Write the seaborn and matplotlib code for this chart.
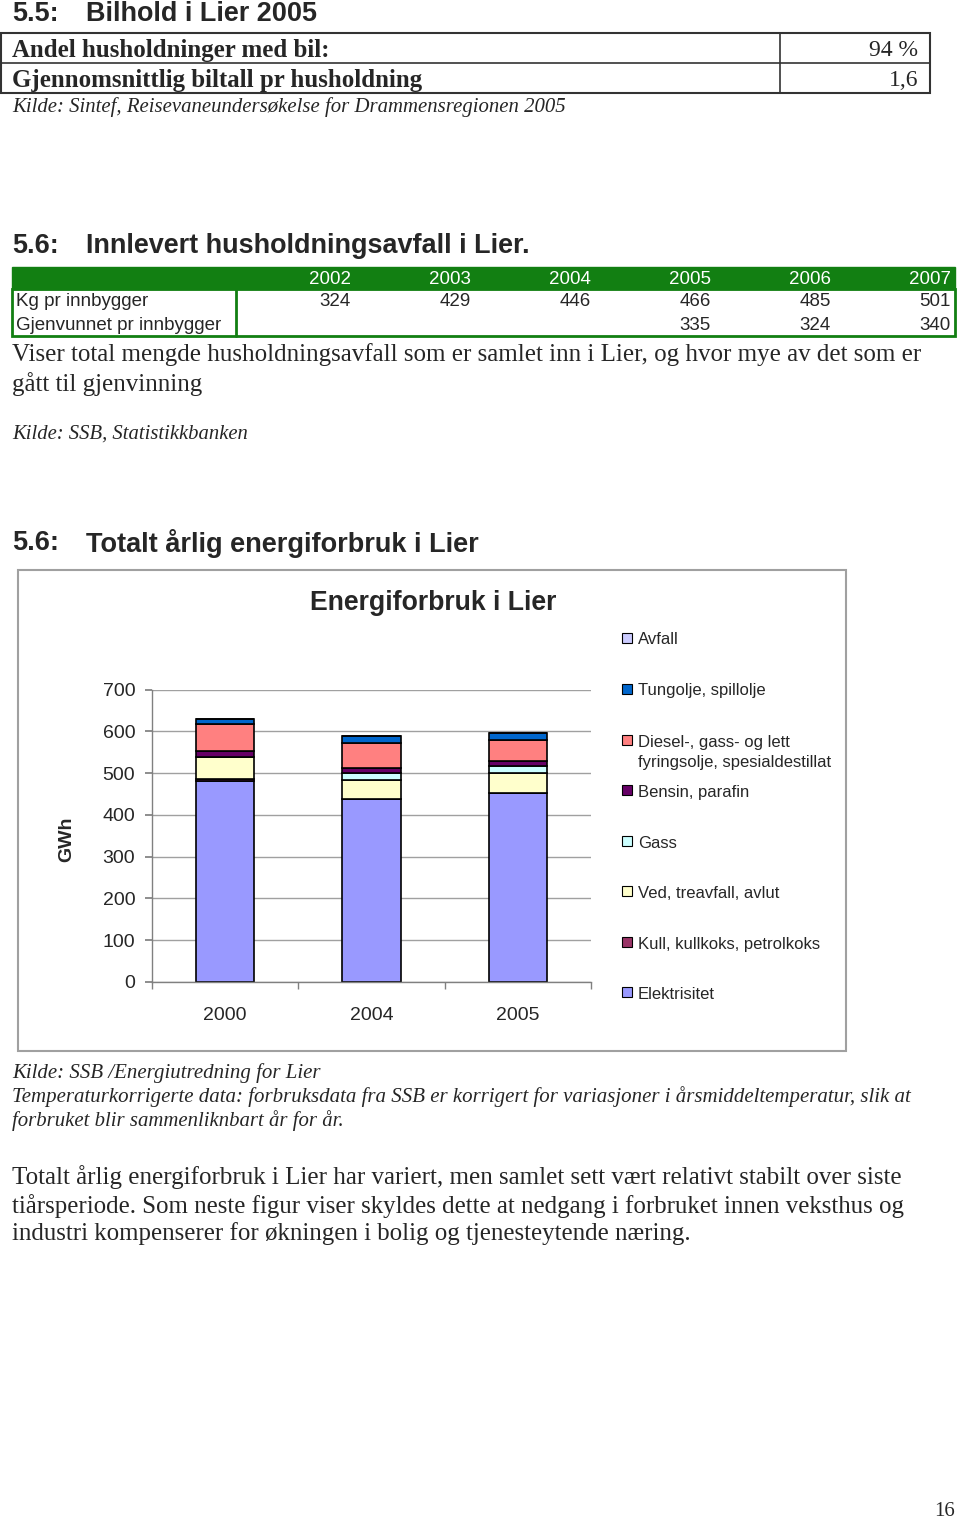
import matplotlib
matplotlib.use('Agg')
import pandas as pd
import matplotlib.pyplot as plt
import seaborn as sns
from matplotlib.patches import Rectangle
from matplotlib.lines import Line2D

# --- data: 5.6 energiforbruk (GWh) ---
years = ['2000', '2004', '2005']
elektrisitet = [482, 437, 453]
kull = [3, 0, 0]
ved = [53, 46, 46]
gass = [0, 16, 19]
bensin = [16, 13, 12]
diesel = [63, 60, 48]
tungolje = [13, 17, 17]
avfall = [0, 0, 0]

sources = ['Elektrisitet', 'Kull, kullkoks, petrolkoks', 'Ved, treavfall, avlut', 'Gass',
           'Bensin, parafin', 'Diesel-, gass- og lett\nfyringsolje, spesialdestillat',
           'Tungolje, spillolje', 'Avfall']
series = [elektrisitet, kull, ved, gass, bensin, diesel, tungolje, avfall]
colors = ['#9999FF', '#993366', '#FFFFCC', '#CCFFFF', '#660066', '#FF8080', '#0066CC', '#CCCCFF']

# --- data: 5.6 husholdningsavfall ---
avfall_years = ['2002', '2003', '2004', '2005', '2006', '2007']
kg_pr_innbygger = ['324', '429', '446', '466', '485', '501']
gjenvunnet = ['', '', '', '335', '324', '340']

# --- data: 5.5 bilhold ---
bil_labels = ['Andel husholdninger med bil:', 'Gjennomsnittlig biltall pr husholdning']
bil_values = ['94 %', '1,6']

df = pd.DataFrame({'year': years * len(sources),
                   'source': [s for s in sources for _ in years],
                   'gwh': [v for vals in series for v in vals]})

sns.set_theme(style='white')
plt.rcParams['font.family'] = ['Liberation Sans', 'DejaVu Sans']

W, H = 960, 1519
fig = plt.figure(figsize=(W / 100, H / 100), dpi=100)
renderer = fig.canvas.get_renderer()
SANS = 'Liberation Sans'
SERIF = 'Liberation Serif'


def fx(x):
    return x / W


def fy(y):
    return 1 - y / H


def txt(x, y, s, width=None, size=12, **kw):
    kw.setdefault('va', 'center')
    t = fig.text(fx(x), fy(y + 2), s, fontsize=size, **kw)
    if width:
        w = t.get_window_extent(renderer).width
        t.set_fontsize(size * width / w)
    return t


def hline(x0, x1, y, **kw):
    fig.add_artist(Line2D([fx(x0), fx(x1)], [fy(y), fy(y)], transform=fig.transFigure, **kw))


def vline(x, y0, y1, **kw):
    fig.add_artist(Line2D([fx(x), fx(x)], [fy(y0), fy(y1)], transform=fig.transFigure, **kw))


def heading(y, num, title, width):
    t = txt(86, y, title, width=width, size=19, family=SANS, weight='bold')
    txt(12, y, num, size=t.get_fontsize(), family=SANS, weight='bold')


# 5.5 Bilhold
heading(12, '5.5:', 'Bilhold i Lier 2005', 231)
fig.add_artist(Rectangle((fx(1), fy(93)), 929 / W, 60 / H, transform=fig.transFigure,
                         fill=False, edgecolor='#333333', lw=1.5))
hline(1, 930, 63, color='#333333', lw=1.2)
vline(780, 33, 93, color='#333333', lw=1.2)
txt(12, 48, bil_labels[0], width=318, size=17, family=SERIF, weight='bold')
txt(12, 78, bil_labels[1], width=411, size=17, family=SERIF, weight='bold')
txt(918, 48, bil_values[0], size=17, family=SERIF, ha='right')
txt(918, 78, bil_values[1], size=17, family=SERIF, ha='right')
txt(12, 105, 'Kilde: Sintef, Reisevaneundersøkelse for Drammensregionen 2005', width=555,
    size=15, family=SERIF, style='italic')

# 5.6 Husholdningsavfall
heading(244, '5.6:', 'Innlevert husholdningsavfall i Lier.', 444)
green = '#127F12'
fig.add_artist(Rectangle((fx(12), fy(289)), 943 / W, 22 / H, transform=fig.transFigure,
                         facecolor=green, edgecolor=green, lw=1))
fig.add_artist(Rectangle((fx(12), fy(336)), 943 / W, 47 / H, transform=fig.transFigure,
                         fill=False, edgecolor=green, lw=2))
vline(236, 289, 336, color=green, lw=2)
col_right = [351, 471, 591, 711, 831, 951]
for xr, yr, kg, gj in zip(col_right, avfall_years, kg_pr_innbygger, gjenvunnet):
    txt(xr, 277, yr, size=13.5, family=SANS, ha='right', color='white')
    txt(xr, 300, kg, size=13.5, family=SANS, ha='right')
    txt(xr, 323.5, gj, size=13.5, family=SANS, ha='right')
txt(16, 300, 'Kg pr innbygger', size=13.5, family=SANS)
txt(16, 323.5, 'Gjenvunnet pr innbygger', size=13.5, family=SANS)
txt(12, 353, 'Viser total mengde husholdningsavfall som er samlet inn i Lier, og hvor mye av det som er',
    width=909, size=17, family=SERIF)
txt(12, 382, 'gått til gjenvinning', width=190, size=17, family=SERIF)
txt(12, 432, 'Kilde: SSB, Statistikkbanken', width=237, size=15, family=SERIF, style='italic')

# 5.6 Energiforbruk
heading(541, '5.6:', 'Totalt årlig energiforbruk i Lier', 393)
fig.add_artist(Rectangle((fx(18), fy(1051)), 828 / W, 481 / H, transform=fig.transFigure,
                         fill=False, edgecolor='#A0A0A0', lw=1.5))
txt(433, 601, 'Energiforbruk i Lier', width=247, size=19, family=SANS, weight='bold', ha='center')
txt(67, 837, 'GWh', size=14, family=SANS, weight='bold', rotation=90, ha='center')

ax = fig.add_axes([fx(152), fy(982), (591 - 152) / W, (982 - 689.5) / H])
bottom = [0] * len(years)
for src, col in zip(sources, colors):
    sub = df[df['source'] == src]
    sns.barplot(data=sub, x='year', y='gwh', order=years, color=col, width=0.4,
                bottom=bottom, edgecolor='black', linewidth=1.2, errorbar=None,
                saturation=1, ax=ax)
    bottom = [b + v for b, v in zip(bottom, sub['gwh'])]

ax.set_xlim(-0.5, 2.5)
ax.set_ylim(0, 700)
ax.set_yticks(range(0, 701, 100))
ax.yaxis.grid(True, color='#A0A0A0', lw=1)
ax.set_axisbelow(True)
ax.set_xlabel('')
ax.set_ylabel('')
for side in ['top', 'right']:
    ax.spines[side].set_visible(False)
for side in ['left', 'bottom']:
    ax.spines[side].set_color('#808080')
    ax.spines[side].set_linewidth(1)
ax.set_xticks([-0.5, 0.5, 1.5, 2.5], minor=True)
ax.tick_params(axis='x', which='major', length=0, pad=18, labelsize=14)
ax.tick_params(axis='x', which='minor', length=5, color='#808080', direction='out', bottom=True)
ax.tick_params(axis='y', length=5, color='#808080', direction='out', left=True, pad=7, labelsize=14)

# legend (top to bottom = reversed stacking order)
leg_y = [992, 942, 891, 841, 790, 740, 689, 638]
for src, col, y in zip(sources, colors, leg_y):
    fig.add_artist(Rectangle((fx(622), fy(y + 5)), 10 / W, 10 / H, transform=fig.transFigure,
                             facecolor=col, edgecolor='black', lw=0.8))
    for k, line in enumerate(src.split('\n')):
        txt(638, y + 20 * k, line, size=12, family=SANS)

txt(12, 1071, 'Kilde: SSB /Energiutredning for Lier', width=309, size=15, family=SERIF, style='italic')
txt(12, 1095, 'Temperaturkorrigerte data: forbruksdata fra SSB er korrigert for variasjoner i årsmiddeltemperatur, slik at',
    width=899, size=15, family=SERIF, style='italic')
txt(12, 1119, 'forbruket blir sammenliknbart år for år.', width=333, size=15, family=SERIF, style='italic')

txt(12, 1175, 'Totalt årlig energiforbruk i Lier har variert, men samlet sett vært relativt stabilt over siste',
    width=890, size=17, family=SERIF)
txt(12, 1204, 'tiårsperiode. Som neste figur viser skyldes dette at nedgang i forbruket innen veksthus og',
    width=893, size=17, family=SERIF)
txt(12, 1232, 'industri kompenserer for økningen i bolig og tjenesteytende næring.', width=678, size=17, family=SERIF)

txt(955, 1510, '16', size=15, family=SERIF, ha='right')

fig.savefig('out.png', dpi=100)
